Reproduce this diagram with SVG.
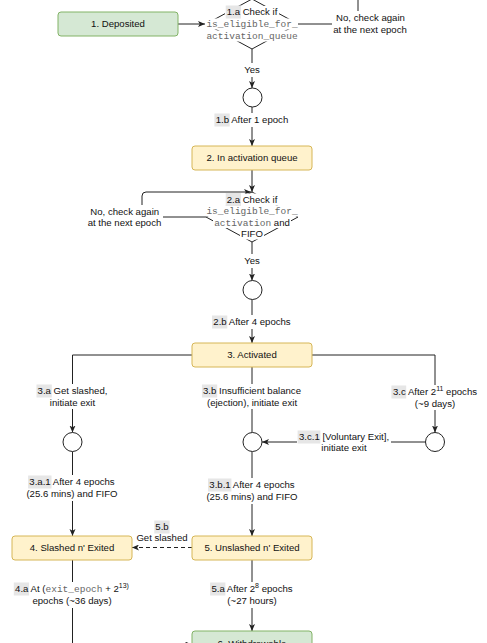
<svg xmlns="http://www.w3.org/2000/svg" width="487" height="643" viewBox="0 0 487 643">
<style>
text{font-family:"Liberation Sans",Arial,sans-serif;font-size:9.6px;fill:#111;}
.m{font-family:"Liberation Mono","Courier New",monospace;font-size:9.5px;fill:#666;}
.c{text-anchor:middle;}
.ln{fill:none;stroke:#222;stroke-width:1;}
.dash{stroke-dasharray:4 3;}
.bg{fill:#fff;}
.hl{fill:#e6e6e6;}
.grn{fill:#d5e8d4;stroke:#82b366;stroke-width:1;}
.yel{fill:#fff2cc;stroke:#d6b656;stroke-width:1;}
.shape{fill:#fff;stroke:#222;stroke-width:1;}
.sup{font-size:7px;}
</style>
<defs>
<marker id="arr" markerUnits="userSpaceOnUse" markerWidth="8" markerHeight="7" refX="7" refY="3" orient="auto">
<path d="M0,0 L7,3 L0,6 L1.8,3 Z" fill="#222"/>
</marker>
</defs>
<rect width="487" height="643" fill="#fff"/>

<g id="connectors">
<path class="ln" d="M178,24 L205,24" marker-end="url(#arr)"/>
<path class="ln" d="M298,24 L358,24 L358,-10"/>
<path class="ln" d="M252,49 L252,88" marker-end="url(#arr)"/>
<path class="ln" d="M252,107 L252,146" marker-end="url(#arr)"/>
<path class="ln" d="M252,170 L252,192" marker-end="url(#arr)"/>
<path class="ln" d="M206,217 L142,217 L142,196 Q142,192 146,192 L251,192" marker-end="url(#arr)"/>
<path class="ln" d="M252,242 L252,280.5" marker-end="url(#arr)"/>
<path class="ln" d="M252,299.5 L252,343" marker-end="url(#arr)"/>
<path class="ln" d="M192,355 L72.5,355 L72.5,432.5" marker-end="url(#arr)"/>
<path class="ln" d="M252,367 L252,432.5"/>
<path class="ln" d="M312,355 L435,355 L435,432.5" marker-end="url(#arr)"/>
<path class="ln" d="M425.5,442 L262,442" marker-end="url(#arr)"/>
<path class="ln" d="M72.5,451.5 L72.5,536" marker-end="url(#arr)"/>
<path class="ln" d="M252,451.5 L252,536" marker-end="url(#arr)"/>
<path class="ln dash" d="M192,547.5 L132,547.5" marker-end="url(#arr)"/>
<path class="ln" d="M72.5,560 L72.5,644.5 L192,644.5" marker-end="url(#arr)"/>
<path class="ln" d="M252,560 L252,631" marker-end="url(#arr)"/>

<!-- edge labels -->
<rect class="bg" x="332" y="11" width="77" height="26"/>
<text class="c" x="370.5" y="21.4">No, check again</text>
<text class="c" x="370" y="33.4">at the next epoch</text>

<rect class="bg" x="242" y="63" width="20" height="14"/>
<text class="c" x="252" y="73.4">Yes</text>

<rect class="bg" x="214" y="113" width="76" height="14"/>
<rect class="hl" x="214.4" y="113.5" width="15.3" height="13"/>
<text class="c" x="252" y="123.4">1.b After 1 epoch</text>

<rect class="bg" x="87" y="205" width="76" height="25"/>
<text class="c" x="124.7" y="215.1">No, check again</text>
<text class="c" x="124.5" y="226.1">at the next epoch</text>

<rect class="bg" x="242" y="254" width="20" height="14"/>
<text class="c" x="252" y="264.4">Yes</text>

<rect class="bg" x="212" y="315" width="80" height="14"/>
<rect class="hl" x="212" y="315.5" width="15.3" height="13"/>
<text class="c" x="252" y="325.4">2.b After 4 epochs</text>

<rect class="bg" x="35" y="384" width="75" height="25"/>
<rect class="hl" x="36.5" y="384.5" width="15.3" height="13"/>
<text class="c" x="72.5" y="394.4">3.a Get slashed,</text>
<text class="c" x="72.5" y="405.9">initiate exit</text>

<rect class="bg" x="200" y="384" width="104" height="25"/>
<rect class="hl" x="201.9" y="384.5" width="15.3" height="13"/>
<text class="c" x="252" y="394.4">3.b Insufficient balance</text>
<text class="c" x="252" y="405.9">(ejection), initiate exit</text>

<rect class="bg" x="390" y="385" width="90" height="25"/>
<rect class="hl" x="391.4" y="385.5" width="14.8" height="13"/>
<text class="c" x="435" y="395.4">3.c After 2<tspan class="sup" dy="-4">11</tspan><tspan dy="4"> epochs</tspan></text>
<text class="c" x="435" y="406.9">(~9 days)</text>

<rect class="bg" x="297" y="430" width="94" height="25"/>
<rect class="hl" x="297.6" y="430.5" width="22.8" height="13"/>
<text class="c" x="344" y="440.4">3.c.1 [Voluntary Exit],</text>
<text class="c" x="344" y="451.4">initiate exit</text>

<rect class="bg" x="25" y="475" width="95" height="26"/>
<rect class="hl" x="28.1" y="475.5" width="23.4" height="13"/>
<text class="c" x="72" y="485.4">3.a.1 After 4 epochs</text>
<text class="c" x="72" y="497.4">(25.6 mins) and FIFO</text>

<rect class="bg" x="205" y="478" width="95" height="26"/>
<rect class="hl" x="208" y="478.5" width="23.4" height="13"/>
<text class="c" x="252" y="488.4">3.b.1 After 4 epochs</text>
<text class="c" x="252" y="500.4">(25.6 mins) and FIFO</text>

<rect class="bg" x="134" y="520" width="56" height="25"/>
<rect class="hl" x="154.3" y="520.5" width="15.3" height="13"/>
<text class="c" x="162" y="530.4">5.b</text>
<text class="c" x="162" y="541.4">Get slashed</text>

<rect class="bg" x="13" y="582" width="118" height="26"/>
<rect class="hl" x="13.8" y="582.5" width="15.3" height="13"/>
<text class="c" x="72" y="592.4">4.a At (<tspan class="m">exit_epoch</tspan> + 2<tspan class="sup" dy="-4">13)</tspan></text>
<text class="c" x="72" y="604.4">epochs (~36 days)</text>

<rect class="bg" x="209" y="582" width="86" height="26"/>
<rect class="hl" x="210.1" y="582.5" width="15.3" height="13"/>
<text class="c" x="252" y="592.4">5.a After 2<tspan class="sup" dy="-4">8</tspan><tspan dy="4"> epochs</tspan></text>
<text class="c" x="252" y="604.4">(~27 hours)</text>
</g>

<g id="n1-deposited">
<rect class="grn" x="58" y="12" width="120" height="24" rx="3"/>
<text class="c" x="118" y="27.4">1. Deposited</text>
</g>

<g id="d1-check">
<path class="shape" d="M252,-1 L298,24 L252,49 L206,24 Z"/>
<rect class="bg" x="225" y="6" width="54" height="12"/>
<rect class="bg" x="206" y="18.5" width="92" height="11"/>
<rect class="bg" x="206" y="30.5" width="92" height="11"/>
<rect class="hl" x="225.7" y="5.5" width="15.3" height="13"/>
<text class="c" x="252" y="15.4">1.a Check if</text>
<text class="c m" x="252" y="27">is_eligible_for_</text>
<text class="c m" x="252" y="39">activation_queue</text>
</g>

<g id="c1">
<circle class="shape" cx="252.5" cy="97.5" r="9.5"/>
</g>

<g id="n2-queue">
<rect class="yel" x="192" y="146" width="120" height="24" rx="3"/>
<text class="c" x="252" y="161.4">2. In activation queue</text>
</g>

<g id="d2-check">
<path class="shape" d="M252,192 L298,217 L252,242 L206,217 Z"/>
<rect class="bg" x="225" y="193.5" width="54" height="12"/>
<rect class="bg" x="206" y="205.5" width="92" height="11"/>
<rect class="bg" x="213" y="217" width="78" height="11"/>
<rect class="bg" x="240" y="228.5" width="24" height="11"/>
<rect class="hl" x="225.7" y="193" width="15.3" height="13"/>
<text class="c" x="252" y="202.9">2.a Check if</text>
<text class="c m" x="252" y="214">is_eligible_for_</text>
<text class="c" x="252" y="225.9"><tspan class="m">activation</tspan> and</text>
<text class="c" x="252" y="237.4">FIFO</text>
</g>

<g id="c2">
<circle class="shape" cx="252.5" cy="290" r="9.5"/>
</g>

<g id="n3-activated">
<rect class="yel" x="192" y="343" width="120" height="24" rx="3"/>
<text class="c" x="252" y="358.4">3. Activated</text>
</g>

<g id="c3a">
<circle class="shape" cx="72.5" cy="442" r="9.5"/>
</g>
<g id="c3b">
<circle class="shape" cx="252.5" cy="442" r="9.5"/>
</g>
<g id="c3c">
<circle class="shape" cx="435" cy="442" r="9.5"/>
</g>

<g id="n4-slashed">
<rect class="yel" x="12" y="536" width="120" height="24" rx="3"/>
<text class="c" x="72" y="551.4">4. Slashed n' Exited</text>
</g>

<g id="n5-unslashed">
<rect class="yel" x="192" y="536" width="120" height="24" rx="3"/>
<text class="c" x="252" y="551.4">5. Unslashed n' Exited</text>
</g>

<g id="n6-withdrawable">
<rect class="grn" x="192" y="631" width="120" height="24" rx="3"/>
<text class="c" x="252" y="647">6. Withdrawable</text>
</g>
</svg>
